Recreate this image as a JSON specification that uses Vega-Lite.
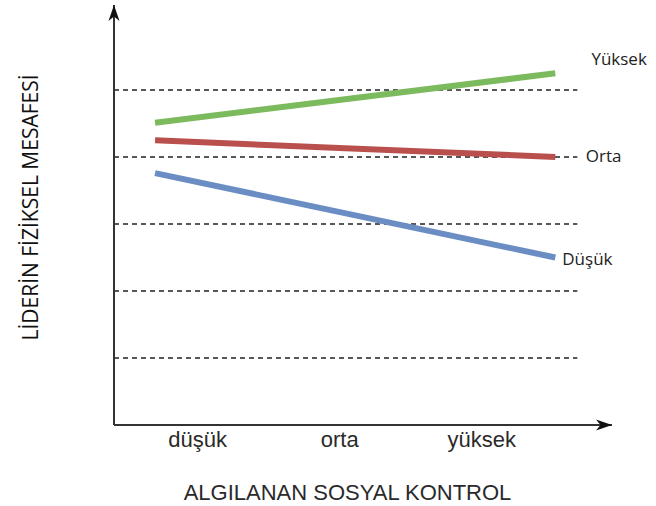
{
  "$schema": "https://vega.github.io/schema/vega-lite/v6.json",
  "width": 498,
  "height": 420,
  "autosize": {"type": "none"},
  "padding": {"left": 114, "top": 5, "right": 44, "bottom": 81},
  "background": "white",
  "config": {"view": {"stroke": null}},
  "datasets": {
    "lines": [
      {"series": "Yüksek", "x": -0.296, "y": 4.51},
      {"series": "Yüksek", "x": 2.521, "y": 5.25},
      {"series": "Orta", "x": -0.296, "y": 4.25},
      {"series": "Orta", "x": 2.521, "y": 4.0},
      {"series": "Düşük", "x": -0.296, "y": 3.76},
      {"series": "Düşük", "x": 2.521, "y": 2.5}
    ],
    "grid": [
      {"y": 1, "x": -0.585, "x2": 2.676},
      {"y": 2, "x": -0.585, "x2": 2.676},
      {"y": 3, "x": -0.585, "x2": 2.676},
      {"y": 4, "x": -0.585, "x2": 2.676},
      {"y": 5, "x": -0.585, "x2": 2.676}
    ],
    "labels": [
      {"label": "Yüksek", "x": 2.775, "y": 5.45},
      {"label": "Orta", "x": 2.735, "y": 4.0},
      {"label": "Düşük", "x": 2.57, "y": 2.46}
    ],
    "axes": [
      {"axis": "x", "x": -0.585, "x2": 2.92, "y": 0, "y2": 0},
      {"axis": "y", "x": -0.585, "x2": -0.585, "y": 0, "y2": 6.269}
    ],
    "tipY": [{"x": -0.585, "y": 6.269}],
    "tipX": [{"x": 2.92, "y": 0}]
  },
  "layer": [
    {
      "data": {"name": "grid"},
      "mark": {"type": "rule", "color": "#222", "strokeWidth": 1.3, "strokeDash": [5, 4]},
      "encoding": {
        "x": {"field": "x", "type": "quantitative", "scale": {"domain": [-0.585, 2.92], "nice": false, "zero": false},
          "axis": {"values": [0, 1, 2], "labelExpr": "datum.value == 0 ? 'düşük' : datum.value == 1 ? 'orta' : 'yüksek'",
            "domain": false, "ticks": false, "grid": false, "labelFont": "Liberation Sans", "labelFontSize": 22,
            "labelColor": "#2a2a2a", "labelPadding": 4, "labelBaseline": "top",
            "title": "ALGILANAN SOSYAL KONTROL", "titleFont": "Liberation Sans", "titleFontSize": 22,
            "titleFontWeight": "normal", "titleColor": "#2a2a2a", "titleX": 233, "titleY": 67,
            "titleBaseline": "middle", "titleAnchor": "middle", "titleAlign": "center"}},
        "x2": {"field": "x2"},
        "y": {"field": "y", "type": "quantitative", "scale": {"domain": [0, 6.269], "nice": false, "zero": false},
          "axis": {"domain": false, "ticks": false, "labels": false, "grid": false,
            "title": "LİDERİN FİZİKSEL MESAFESİ", "titleFont": "Open Sans", "titleFontSize": 21,
            "titleFontWeight": "normal", "titleColor": "#111", "titleX": -83, "titleY": 202,
            "titleAngle": -90, "titleBaseline": "middle", "titleAnchor": "middle", "titleAlign": "center"}}
      }
    },
    {
      "data": {"name": "axes"},
      "mark": {"type": "rule", "color": "#333", "strokeWidth": 2},
      "encoding": {
        "x": {"field": "x", "type": "quantitative"},
        "x2": {"field": "x2"},
        "y": {"field": "y", "type": "quantitative"},
        "y2": {"field": "y2"}
      }
    },
    {
      "data": {"name": "tipY"},
      "mark": {"type": "point", "shape": "M0,0 L0.55,1.6 L0,1.15 L-0.55,1.6 Z", "size": 400, "filled": true, "color": "#111", "opacity": 1, "strokeWidth": 0},
      "encoding": {
        "x": {"field": "x", "type": "quantitative"},
        "y": {"field": "y", "type": "quantitative"}
      }
    },
    {
      "data": {"name": "tipX"},
      "mark": {"type": "point", "shape": "M0,0 L-1.6,0.55 L-1.15,0 L-1.6,-0.55 Z", "size": 400, "filled": true, "color": "#111", "opacity": 1, "strokeWidth": 0},
      "encoding": {
        "x": {"field": "x", "type": "quantitative"},
        "y": {"field": "y", "type": "quantitative"}
      }
    },
    {
      "data": {"name": "lines"},
      "mark": {"type": "line", "strokeWidth": 6, "strokeCap": "butt"},
      "encoding": {
        "x": {"field": "x", "type": "quantitative"},
        "y": {"field": "y", "type": "quantitative"},
        "detail": {"field": "series"},
        "color": {"field": "series", "type": "nominal", "legend": null,
          "scale": {"domain": ["Yüksek", "Orta", "Düşük"], "range": ["#7cba5e", "#b9504e", "#6a8ec4"]}}
      }
    },
    {
      "data": {"name": "labels"},
      "mark": {"type": "text", "align": "left", "baseline": "middle", "font": "Open Sans", "fontSize": 17, "color": "#222"},
      "encoding": {
        "x": {"field": "x", "type": "quantitative"},
        "y": {"field": "y", "type": "quantitative"},
        "text": {"field": "label"}
      }
    }
  ]
}
